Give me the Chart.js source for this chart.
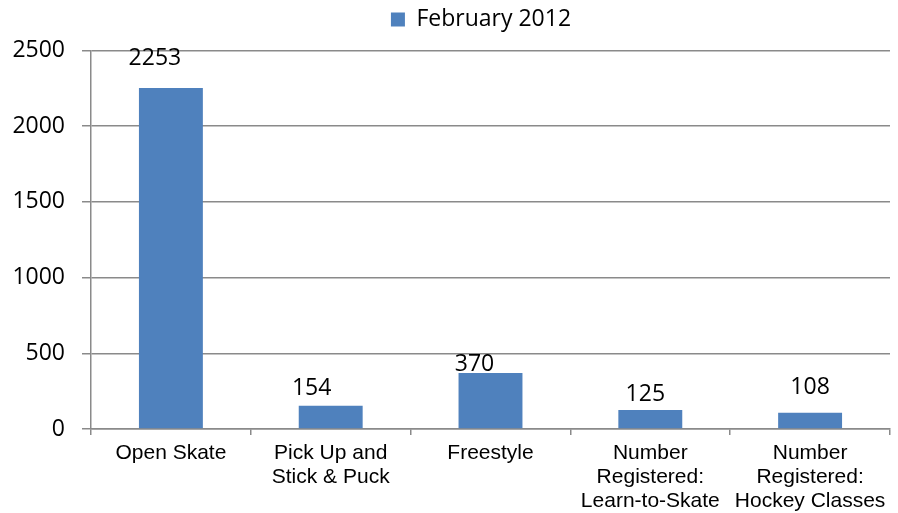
<!DOCTYPE html>
<html>
<head>
<meta charset="utf-8">
<script src="https://cdn.jsdelivr.net/npm/chart.js@4"></script>
<style>
  html, body { margin: 0; padding: 0; background: #fff; }
  #wrap { width: 898px; height: 513px; }
</style>
</head>
<body>
<div id="wrap"><canvas id="rinkChart"></canvas></div>
<script>
const categories = [
    "Open Skate",
    ["Pick Up and", "Stick & Puck"],
    "Freestyle",
    ["Number", "Registered:", "Learn-to-Skate"],
    ["Number", "Registered:", "Hockey Classes"]
];
const february2012 = [2253, 154, 370, 125, 108];
const yTicks = [0, 500, 1000, 1500, 2000, 2500];

// value labels were nudged by hand, keep their offsets [dx, gap above bar]
const labelNudge = [[-16, 23], [-19, 11], [-16, 2], [-5, 9], [0, 19]];

const numberFont = "'Open Sans', sans-serif";
const gridGrey = "#8a8a8a";

const valueLabels = {
    id: "valueLabels",
    afterDatasetsDraw(chart) {
        const ctx = chart.ctx;
        const meta = chart.getDatasetMeta(0);
        ctx.save();
        ctx.font = "23px " + numberFont;
        ctx.fillStyle = "#000";
        ctx.textAlign = "center";
        ctx.textBaseline = "alphabetic";
        meta.data.forEach(function (bar, i) {
            const nudge = labelNudge[i];
            ctx.fillText(String(february2012[i]), bar.x + nudge[0], bar.y - nudge[1]);
        });
        ctx.restore();
    }
};

// legend box is tall to push the plot down; lift its contents and
// centre it over the plot area rather than the whole canvas
const placeLegend = {
    id: "placeLegend",
    afterLayout(chart) {
        const lg = chart.legend;
        if (!lg) return;
        lg.top -= 9.5;
        lg.bottom -= 9.5;
        lg.left += 36;
        lg.right += 36;
    }
};

new Chart(document.getElementById("rinkChart"), {
    type: "bar",
    data: {
        labels: categories,
        datasets: [{
            label: "February 2012",
            data: february2012,
            backgroundColor: "#4f81bd",
            borderWidth: 0,
            barPercentage: 0.4,
            categoryPercentage: 1.0
        }]
    },
    options: {
        responsive: true,
        maintainAspectRatio: false,
        animation: false,
        layout: { padding: { left: 0, right: 8, top: 0, bottom: 0 } },
        plugins: {
            tooltip: { enabled: false },
            legend: {
                position: "top",
                labels: {
                    color: "#000",
                    font: { family: numberFont, size: 23 },
                    boxWidth: 14,
                    boxHeight: 14,
                    padding: 17.5
                }
            }
        },
        scales: {
            x: {
                offset: true,
                grid: {
                    offset: true,
                    drawOnChartArea: false,
                    drawTicks: true,
                    tickLength: 6,
                    color: gridGrey,
                    lineWidth: 1.5
                },
                border: { color: gridGrey, width: 1.5 },
                ticks: {
                    color: "#000",
                    maxRotation: 0,
                    autoSkip: false,
                    padding: 6,
                    font: { family: "'Liberation Sans', Arial, sans-serif", size: 21, lineHeight: 1.15 }
                },
                afterFit(scale) { scale.height = 84; }
            },
            y: {
                min: 0,
                max: 2500,
                afterBuildTicks(scale) {
                    scale.ticks = yTicks.map(function (v) { return { value: v }; });
                },
                grid: {
                    color: gridGrey,
                    lineWidth: 1.5,
                    drawTicks: true,
                    tickLength: 9
                },
                border: { color: gridGrey, width: 1.5 },
                ticks: {
                    color: "#000",
                    padding: 17,
                    font: { family: numberFont, size: 23 },
                    callback: function (value) { return String(value); }
                },
                afterFit(scale) { scale.width = 91; }
            }
        }
    },
    plugins: [valueLabels, placeLegend]
});
</script>
</body>
</html>
